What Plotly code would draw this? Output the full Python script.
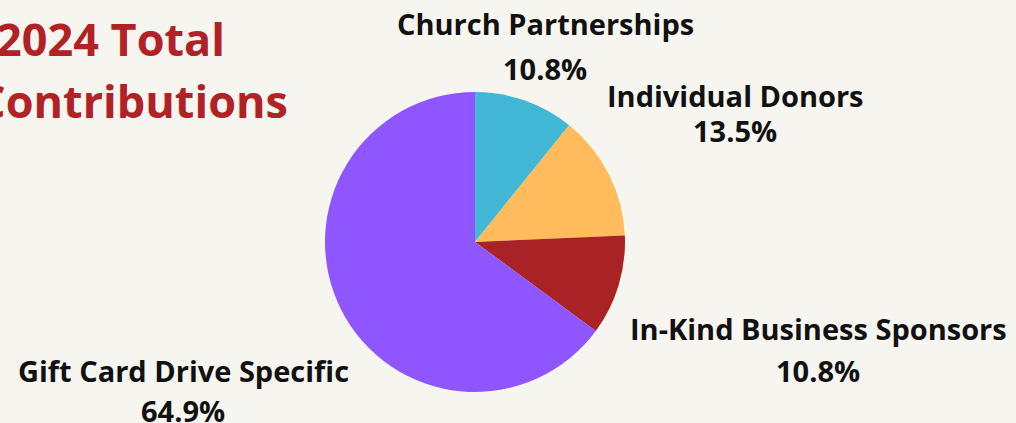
import plotly.graph_objects as go

categories = ["Church Partnerships", "Individual Donors", "In-Kind Business Sponsors", "Gift Card Drive Specific"]
values = [10.8, 13.5, 10.8, 64.9]
colors = ["#42b8d6", "#ffbb5c", "#a82226", "#8f55ff"]
title_lines = ["2024 Total", "Contributions"]

W, H = 1016, 423
BG = "#f7f5f0"

fig = go.Figure(go.Pie(
    labels=categories,
    values=values,
    sort=False,
    direction="clockwise",
    rotation=0,
    marker=dict(colors=colors, line=dict(width=0)),
    textinfo="none",
    hoverinfo="label+percent",
    showlegend=False,
    domain=dict(x=[325 / W, 625 / W], y=[1 - 392 / H, 1 - 92 / H]),
))

label_pos = [
    ((545, 24), (545, 68)),
    ((735, 95), (735, 130)),
    ((818, 328), (818, 370)),
    ((183, 370), (183, 410)),
]
font_lab = dict(family="Open Sans", size=29, color="#111111")
annotations = []
for cat, val, ((nx, ny), (px, py)) in zip(categories, values, label_pos):
    annotations.append(dict(x=nx / W, y=1 - ny / H, xref="paper", yref="paper",
                            text=f"<b>{cat}</b>", showarrow=False, font=font_lab,
                            xanchor="center", yanchor="middle"))
    annotations.append(dict(x=px / W, y=1 - py / H, xref="paper", yref="paper",
                            text=f"<b>{val:.1f}%</b>", showarrow=False, font=font_lab,
                            xanchor="center", yanchor="middle"))

font_title = dict(family="Open Sans", size=45, color="#b02226")
for line, (rx, cy) in zip(title_lines, [(227, 38), (290, 100)]):
    annotations.append(dict(x=rx / W, y=1 - cy / H, xref="paper", yref="paper",
                            text=f"<b>{line}</b>", showarrow=False, font=font_title,
                            xanchor="right", yanchor="middle"))

fig.update_layout(
    width=W, height=H,
    margin=dict(l=0, r=0, t=0, b=0),
    paper_bgcolor=BG, plot_bgcolor=BG,
    annotations=annotations,
)

fig.write_html(
    "out.html",
    config={"displayModeBar": False},
    post_script="document.body.style.margin='0';document.body.style.background='%s';" % BG,
)
